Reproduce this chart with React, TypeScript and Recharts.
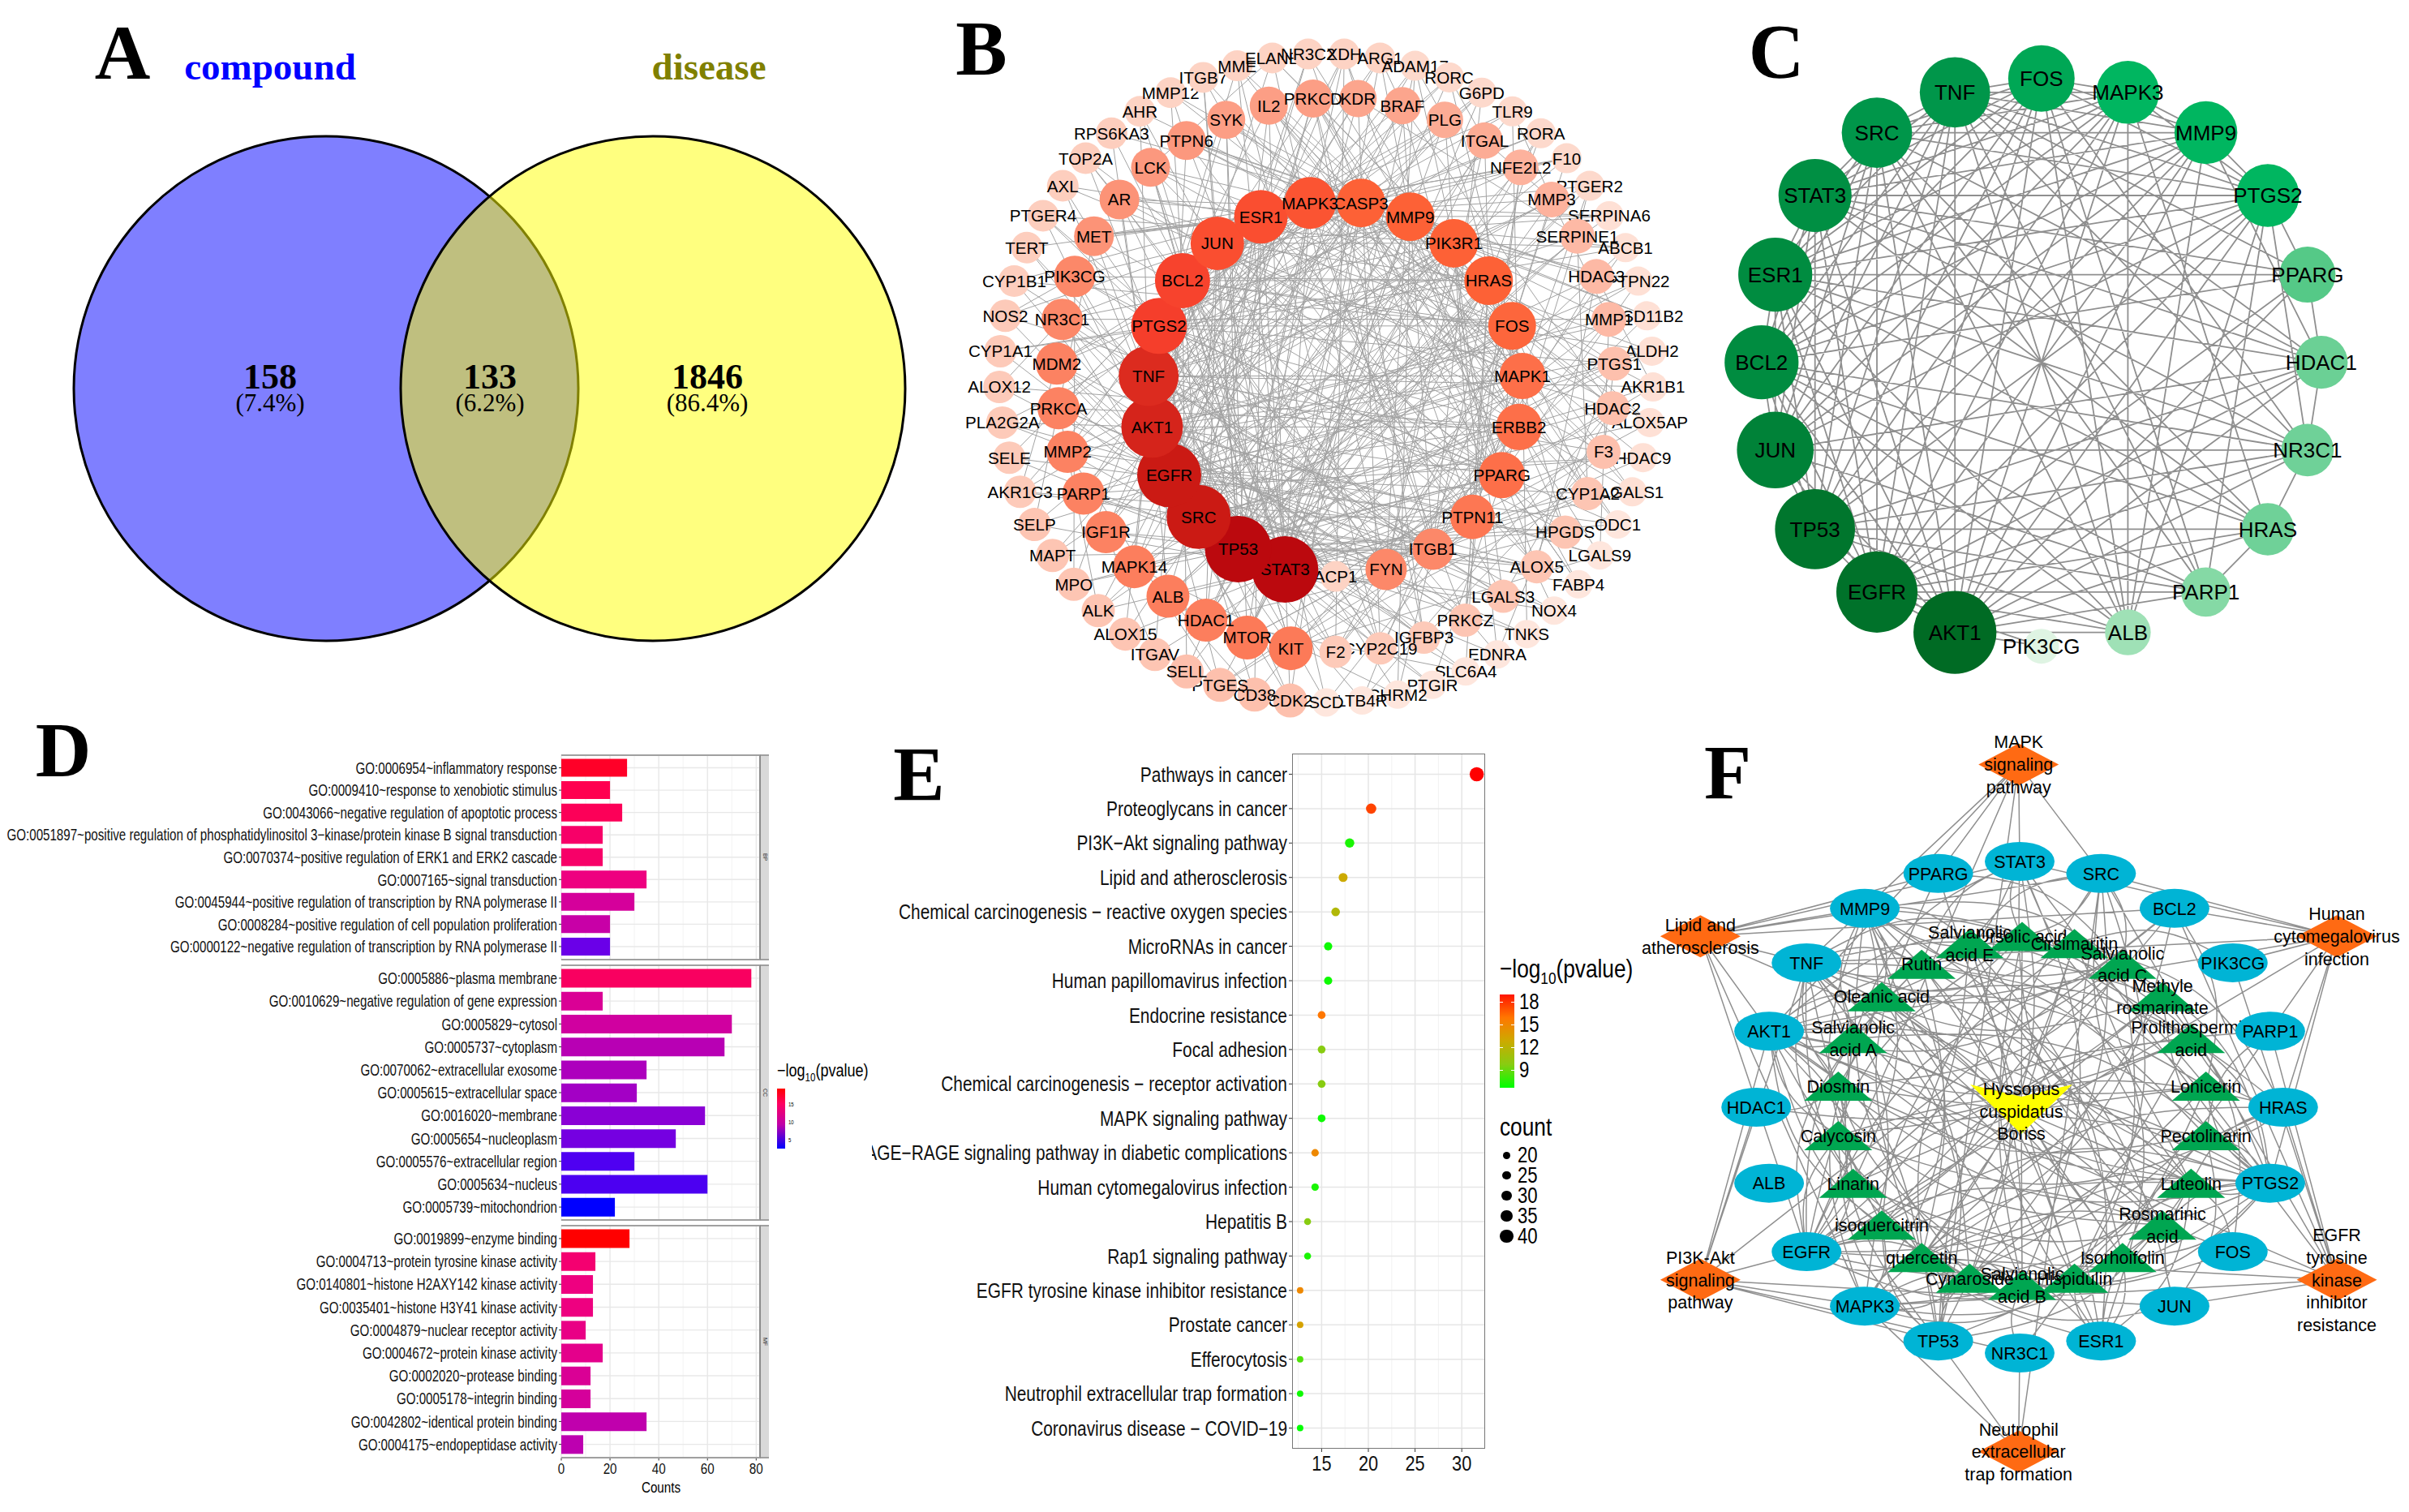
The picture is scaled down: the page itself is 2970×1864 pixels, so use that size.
import React from 'react';
import {
  BarChart, Bar, Cell, XAxis, YAxis, ZAxis, CartesianGrid, ComposedChart, ScatterChart, Scatter, Line,
} from 'recharts';

const SANS = '"Liberation Sans", Arial, sans-serif';
const SERIF = '"Liberation Serif", serif';

// ---- A: venn
const vennSets = ['compound', 'disease'];
const vennCounts = [158, 133, 1846];
const vennPercents = ['(7.4%)', '(6.2%)', '(86.4%)'];

// ---- B: PPI network, three rings in drawing order (clockwise)
const bInner = ['CASP3', 'MMP9', 'PIK3R1', 'HRAS', 'FOS', 'MAPK1', 'ERBB2', 'PPARG', 'PTPN11', 'ITGB1', 'FYN', 'ACP1', 'STAT3', 'TP53', 'SRC', 'EGFR', 'AKT1', 'TNF', 'PTGS2', 'BCL2', 'JUN', 'ESR1', 'MAPK3'];
const bInnerDegree = [32, 32, 32, 32, 31, 29, 29, 29, 27, 23, 23, 10, 54, 54, 51, 51, 48, 46, 41, 40, 38, 38, 36];
const bMiddle = ['KDR', 'BRAF', 'PLG', 'ITGAL', 'NFE2L2', 'MMP3', 'SERPINE1', 'HDAC3', 'MMP1', 'PTGS1', 'HDAC2', 'F3', 'CYP1A2', 'HPGDS', 'ALOX5', 'LGALS3', 'PRKCZ', 'IGFBP3', 'CYP2C19', 'F2', 'KIT', 'MTOR', 'HDAC1', 'ALB', 'MAPK14', 'IGF1R', 'PARP1', 'MMP2', 'PRKCA', 'MDM2', 'NR3C1', 'PIK3CG', 'MET', 'AR', 'LCK', 'PTPN6', 'SYK', 'IL2', 'PRKCD'];
const bMiddleDegree = [18, 18, 17, 17, 16, 16, 15, 15, 15, 14, 14, 14, 13, 13, 13, 13, 13, 12, 12, 12, 26, 26, 25, 25, 25, 24, 24, 24, 24, 24, 23, 23, 21, 21, 20, 20, 19, 19, 19];
const bOuter = ['XDH', 'ARG1', 'ADAM17', 'RORC', 'G6PD', 'TLR9', 'RORA', 'F10', 'PTGER2', 'SERPINA6', 'ABCB1', 'PTPN22', 'HSD11B2', 'ALDH2', 'AKR1B1', 'ALOX5AP', 'HDAC9', 'LGALS1', 'ODC1', 'LGALS9', 'FABP4', 'NOX4', 'TNKS', 'EDNRA', 'SLC6A4', 'PTGIR', 'CHRM2', 'LTB4R', 'SCD', 'CDK2', 'CD38', 'PTGES', 'SELL', 'ITGAV', 'ALOX15', 'ALK', 'MPO', 'MAPT', 'SELP', 'AKR1C3', 'SELE', 'PLA2G2A', 'ALOX12', 'CYP1A1', 'NOS2', 'CYP1B1', 'TERT', 'PTGER4', 'AXL', 'TOP2A', 'RPS6KA3', 'AHR', 'MMP12', 'ITGB7', 'MME', 'ELANE', 'NR3C2'];
const bOuterDegree = [10, 10, 9, 9, 9, 9, 9, 9, 9, 8, 8, 8, 8, 8, 8, 8, 8, 8, 7, 7, 7, 7, 7, 7, 7, 7, 7, 7, 7, 14, 14, 14, 14, 13, 13, 13, 13, 13, 13, 12, 12, 12, 12, 12, 12, 11, 11, 11, 11, 11, 11, 10, 10, 10, 10, 10, 10];
// row i = neighbours of node i; inner 0-22, middle 23-61, outer 62-118
const bLinks = [
  [3, 5, 7, 12, 13, 15, 16, 17, 18, 20, 21, 22, 27, 33, 40, 48, 55, 60, 66, 74, 83, 91, 99, 108, 114],
  [4, 6, 9, 12, 14, 16, 17, 19, 21, 24, 30, 37, 44, 52, 58, 63, 71, 80, 88, 96, 103, 112, 118],
  [5, 8, 10, 13, 14, 15, 16, 20, 22, 25, 31, 38, 45, 53, 59, 64, 72, 85, 93, 101, 109, 117],
  [6, 9, 11, 12, 13, 15, 17, 19, 20, 26, 32, 39, 46, 54, 61, 68, 77, 86, 94, 105, 113],
  [7, 10, 13, 14, 16, 18, 19, 21, 28, 35, 42, 49, 56, 69, 79, 89, 97, 107, 116],
  [8, 12, 13, 15, 16, 17, 20, 22, 23, 34, 41, 50, 57, 65, 75, 84, 92, 100, 110],
  [9, 10, 14, 15, 16, 18, 19, 29, 36, 43, 51, 60, 67, 76, 87, 95, 104, 115],
  [11, 12, 13, 16, 17, 18, 21, 24, 33, 47, 55, 62, 73, 82, 98, 106, 111],
  [10, 12, 14, 15, 16, 19, 20, 27, 39, 44, 58, 70, 81, 90, 102, 118],
  [12, 13, 14, 15, 17, 18, 22, 30, 37, 52, 61, 66, 78, 88, 99, 109],
  [12, 13, 14, 16, 19, 26, 35, 48, 56, 64, 74, 93, 103, 117],
  [15, 40, 76, 112],
  [13, 14, 15, 16, 17, 18, 19, 20, 21, 22, 25, 28, 31, 34, 38, 41, 46, 49, 53, 57, 60, 63, 68, 72, 79, 83, 86, 91, 96, 100, 105, 108, 113, 116],
  [14, 15, 16, 17, 18, 19, 20, 21, 22, 23, 26, 29, 32, 36, 42, 45, 50, 54, 59, 62, 65, 70, 75, 80, 85, 90, 94, 98, 102, 107, 111, 115],
  [15, 16, 17, 18, 20, 21, 24, 27, 33, 37, 43, 47, 51, 55, 61, 67, 71, 77, 82, 87, 92, 97, 101, 106, 110, 114],
  [16, 17, 18, 19, 21, 22, 25, 30, 35, 40, 44, 52, 58, 64, 69, 73, 78, 84, 89, 95, 99, 104, 109, 118],
  [17, 18, 19, 20, 21, 22, 23, 28, 31, 39, 46, 48, 56, 62, 66, 74, 81, 86, 93, 100, 103, 112, 117],
  [18, 19, 20, 21, 22, 26, 29, 34, 38, 42, 53, 59, 63, 70, 76, 83, 91, 98, 108, 113],
  [19, 20, 21, 22, 27, 32, 41, 47, 54, 60, 65, 72, 80, 88, 96, 105, 116],
  [20, 21, 22, 24, 33, 43, 50, 57, 68, 75, 85, 94, 102, 111],
  [21, 22, 25, 36, 45, 51, 61, 71, 79, 90, 106, 115],
  [22, 28, 37, 49, 55, 67, 77, 92, 101, 110, 118],
  [30, 35, 44, 58, 69, 82, 97, 107, 114],
  [29, 41, 62], [33, 47, 63], [36, 52, 64], [28, 44, 65], [39, 55, 69],
  [31, 50, 67], [35, 46, 70], [37, 58, 76], [42, 53, 81], [34, 49, 85],
  [38, 60, 89], [40, 56, 93], [43, 61, 97], [45, 54, 101], [48, 57, 103],
  [51, 59, 107], [52, 60, 109], [53, 61, 113], [55, 58, 116], [56, 62, 72],
  [57, 64, 81], [59, 66, 77], [60, 68, 86], [61, 70, 92], [62, 73, 88],
  [63, 75, 95], [64, 78, 84], [65, 80, 93], [66, 83, 97], [67, 87, 101],
  [68, 91, 104], [69, 98, 106], [70, 100, 110], [71, 72, 111], [73, 75, 117],
  [74, 76, 114], [77, 78, 115], [79, 80, 116], [81, 82, 117],
];

// ---- C: hub genes
const cGenes = ['FOS', 'MAPK3', 'MMP9', 'PTGS2', 'PPARG', 'HDAC1', 'NR3C1', 'HRAS', 'PARP1', 'ALB', 'PIK3CG', 'AKT1', 'EGFR', 'TP53', 'JUN', 'BCL2', 'ESR1', 'STAT3', 'SRC', 'TNF'];
const cDegree = [13.5, 12.3, 12.3, 12.3, 10, 9, 8.8, 8.8, 7.8, 6.6, 3, 19, 18.4, 18, 16.9, 16, 16, 15.7, 14.8, 14.8];
const cLinks = [
  [1, 2, 3, 6, 8, 9],
  [2, 3, 7, 9, 11],
  [3, 5, 9, 12],
  [4, 6, 8, 9, 13],
  [5],
  [6],
  [7, 16],
  [8, 17],
  [18],
  [19],
  [],
  [0, 1, 2, 3, 4, 5, 6, 7, 8, 9, 10, 12, 13, 14, 15, 16, 17, 18, 19],
  [0, 1, 2, 3, 4, 5, 6, 7, 8, 9, 10, 13, 14, 15, 16, 17, 18, 19],
  [0, 1, 2, 3, 5, 6, 7, 8, 9, 14, 15, 16, 17, 18, 19],
  [0, 1, 2, 3, 5, 6, 8, 15, 16, 17, 18, 19],
  [0, 1, 2, 3, 4, 6, 7, 8, 9, 16, 17, 18, 19],
  [0, 1, 2, 3, 4, 5, 6, 7, 9, 17, 18, 19],
  [0, 1, 2, 3, 4, 5, 6, 7, 18, 19],
  [0, 1, 2, 3, 5, 7, 8, 9, 19],
  [0, 1, 2, 3, 4, 5, 6, 8, 9],
];

// ---- D: GO enrichment bars
const bpTerms = ['GO:0006954~inflammatory response', 'GO:0009410~response to xenobiotic stimulus', 'GO:0043066~negative regulation of apoptotic process', 'GO:0051897~positive regulation of phosphatidylinositol 3−kinase/protein kinase B signal transduction', 'GO:0070374~positive regulation of ERK1 and ERK2 cascade', 'GO:0007165~signal transduction', 'GO:0045944~positive regulation of transcription by RNA polymerase II', 'GO:0008284~positive regulation of cell population proliferation', 'GO:0000122~negative regulation of transcription by RNA polymerase II'];
const bpCounts = [27, 20, 25, 17, 17, 35, 30, 20, 20];
const bpLogP = [18, 17, 16.5, 15.5, 15.5, 14, 11.5, 10.5, 5.5];
const ccTerms = ['GO:0005886~plasma membrane', 'GO:0010629~negative regulation of gene expression', 'GO:0005829~cytosol', 'GO:0005737~cytoplasm', 'GO:0070062~extracellular exosome', 'GO:0005615~extracellular space', 'GO:0016020~membrane', 'GO:0005654~nucleoplasm', 'GO:0005576~extracellular region', 'GO:0005634~nucleus', 'GO:0005739~mitochondrion'];
const ccCounts = [78, 17, 70, 67, 35, 31, 59, 47, 30, 60, 22];
const ccLogP = [16, 12, 11, 9.5, 8.8, 8.2, 7, 6, 4.5, 4.4, 2];
const mfTerms = ['GO:0019899~enzyme binding', 'GO:0004713~protein tyrosine kinase activity', 'GO:0140801~histone H2AXY142 kinase activity', 'GO:0035401~histone H3Y41 kinase activity', 'GO:0004879~nuclear receptor activity', 'GO:0004672~protein kinase activity', 'GO:0002020~protease binding', 'GO:0005178~integrin binding', 'GO:0042802~identical protein binding', 'GO:0004175~endopeptidase activity'];
const mfCounts = [28, 14, 13, 13, 10, 17, 12, 12, 35, 9];
const mfLogP = [19, 15, 14, 14, 13.5, 13, 12, 11.5, 10, 9.8];
const countTicks = [0, 20, 40, 60, 80];
const countMinor = [10, 30, 50, 70];
const colorLegendD = [15, 10, 5];

// ---- E: KEGG dots
const keggNames = ['Pathways in cancer', 'Proteoglycans in cancer', 'PI3K−Akt signaling pathway', 'Lipid and atherosclerosis', 'Chemical carcinogenesis − reactive oxygen species', 'MicroRNAs in cancer', 'Human papillomavirus infection', 'Endocrine resistance', 'Focal adhesion', 'Chemical carcinogenesis − receptor activation', 'MAPK signaling pathway', 'AGE−RAGE signaling pathway in diabetic complications', 'Human cytomegalovirus infection', 'Hepatitis B', 'Rap1 signaling pathway', 'EGFR tyrosine kinase inhibitor resistance', 'Prostate cancer', 'Efferocytosis', 'Neutrophil extracellular trap formation', 'Coronavirus disease − COVID−19'];
const keggPercent = [31.6, 20.3, 18, 17.3, 16.5, 15.7, 15.7, 15, 15, 15, 15, 14.3, 14.3, 13.5, 13.5, 12.7, 12.7, 12.7, 12.7, 12.7];
const keggCount = [42, 27, 24, 23, 22, 21, 21, 20, 20, 20, 20, 19, 19, 18, 18, 17, 17, 17, 17, 17];
const keggLogP = [18.5, 16.5, 7.8, 12, 11, 7.6, 7.6, 15, 9.5, 9.5, 7.6, 14, 7.8, 9.5, 7.8, 14, 12.5, 8.6, 7.6, 7.4];
const percentTicks = [15, 20, 25, 30];
const percentMinor = [12.5, 17.5, 22.5, 27.5, 32.5];
const colorLegendE = [18, 15, 12, 9];
const sizeLegendE = [20, 25, 30, 35, 40];

// ---- F: herb-compound-target-pathway network
const fHerb = ['Hyssopus\ncuspidatus\nBoriss'];
const fCompounds = ['Ursolic acid', 'Cirsimaritin', 'Salvianolic\nacid C', 'Methyle\nrosmarinate', 'Prolithospermic\nacid', 'Lonicerin', 'Pectolinarin', 'Luteolin', 'Rosmarinic\nacid', 'Isorhoifolin', 'Hispidulin', 'Salvianolic\nacid B', 'Cynaroside', 'quercetin', 'isoquercitrin', 'Linarin', 'Calycosin', 'Diosmin', 'Salvianolic\nacid A', 'Oleanic acid', 'Rutin', 'Salvianolic\nacid E'];
const fTargets = ['STAT3', 'SRC', 'BCL2', 'PIK3CG', 'PARP1', 'HRAS', 'PTGS2', 'FOS', 'JUN', 'ESR1', 'NR3C1', 'TP53', 'MAPK3', 'EGFR', 'ALB', 'HDAC1', 'AKT1', 'TNF', 'MMP9', 'PPARG'];
const fPathways = ['MAPK\nsignaling\npathway', 'Human\ncytomegalovirus\ninfection', 'EGFR\ntyrosine\nkinase\ninhibitor\nresistance', 'Neutrophil\nextracellular\ntrap formation', 'PI3K-Akt\nsignaling\npathway', 'Lipid and\natherosclerosis'];
const fCompoundLinks = [
  [0, 1, 6, 9, 11, 13, 16, 17, 18],
  [3, 5, 9, 12, 13, 16, 17],
  [1, 6, 10, 11, 13, 16, 18, 19],
  [6, 7, 13, 15, 16, 17, 18],
  [0, 5, 6, 12, 13, 16, 17],
  [2, 6, 11, 13, 16, 17, 18],
  [4, 5, 6, 8, 12, 16, 17],
  [1, 5, 6, 7, 8, 9, 11, 12, 13, 16, 17, 18, 19],
  [0, 6, 9, 12, 13, 16, 17, 18],
  [5, 6, 9, 13, 16, 18],
  [1, 6, 9, 12, 13, 16, 17],
  [0, 1, 6, 10, 12, 16, 17, 18],
  [1, 6, 11, 12, 13, 16, 17, 18],
  [0, 2, 4, 5, 6, 7, 8, 9, 11, 12, 13, 16, 17, 18, 19],
  [4, 6, 7, 11, 12, 13, 16, 17, 18],
  [5, 6, 11, 13, 16, 17, 18],
  [5, 6, 9, 11, 13, 16, 17],
  [2, 6, 9, 13, 15, 16, 17, 18],
  [0, 6, 11, 13, 16, 17, 18],
  [0, 2, 5, 6, 9, 11, 12, 16, 17, 18],
  [0, 6, 8, 12, 13, 16, 17, 18],
  [1, 6, 9, 11, 13, 17, 18],
];
const fPathwayLinks = [
  [19, 18, 17, 16, 1, 0, 13, 11],
  [2, 1, 16, 17, 0, 3, 5, 4, 13, 6],
  [5, 4, 2, 3, 7, 13, 12, 8, 16, 1, 0],
  [10, 11, 12, 1],
  [12, 13, 11, 15, 16, 8, 17, 2, 10],
  [18, 17, 16, 19, 2, 0, 1, 13, 12, 6],
];

// ---- colour ramps
const hexRgb = (h: string) => [1, 3, 5].map((i) => parseInt(h.slice(i, i + 2), 16));
const ramp = (stops: [number, string][]) => (v: number) => {
  if (v <= stops[0][0]) return stops[0][1];
  for (let i = 1; i < stops.length; i++) {
    if (v <= stops[i][0]) {
      const t = (v - stops[i - 1][0]) / (stops[i][0] - stops[i - 1][0]);
      const a = hexRgb(stops[i - 1][1]);
      const b = hexRgb(stops[i][1]);
      return `rgb(${a.map((c, k) => Math.round(c + (b[k] - c) * t)).join(',')})`;
    }
  }
  return stops[stops.length - 1][1];
};
const redRamp = ramp([[7, '#fee6dd'], [10, '#fdd3c4'], [14, '#fdc0ad'], [19, '#fc9e85'], [24, '#fc8262'], [29, '#fd6f49'], [32, '#fd6136'], [38, '#fa4e30'], [41, '#f53e2b'], [46, '#dc2b1f'], [51, '#cb1a14'], [54, '#bb090e']]);
const greenRamp = ramp([[3, '#dff4e3'], [6.6, '#9fe1b6'], [10, '#55c987'], [12.3, '#00b660'], [14.8, '#00964a'], [16, '#008c40'], [19, '#006b24']]);
const goRamp = ramp([[2, '#0000ff'], [5, '#5f00ee'], [8, '#a000c8'], [11, '#d000a0'], [14, '#ee0080'], [17, '#ff0050'], [19, '#ff0000']]);
const keggRamp = ramp([[7.4, '#00ff00'], [9.5, '#88cc11'], [12, '#ccaa00'], [15, '#ff7700'], [18.5, '#ff0000']]);

// ---- layout helpers
type Ring = { cx: number; cy: number; rx: number; ry: number; start: number };
const ring = (names: string[], degree: number[], c: Ring) => names.map((name, i) => {
  const a = ((c.start + (i * 360) / names.length) * Math.PI) / 180;
  return { name, degree: degree[i], x: c.cx + c.rx * Math.sin(a), y: c.cy - c.ry * Math.cos(a) };
});
const zeros = (names: string[]) => names.map(() => 0);

// a null y breaks the line, so one Line can hold every edge; bow > 0 curves the edge
const edgeRows = (pairs: [any, any, number][]) => pairs.flatMap(([a, b, bow]) => {
  const rows: { x: number; y: number | null }[] = [{ x: a.x, y: a.y }];
  if (bow) {
    rows.push({ x: (a.x + b.x) / 2 - (b.y - a.y) * bow, y: (a.y + b.y) / 2 + (b.x - a.x) * bow });
  }
  rows.push({ x: b.x, y: b.y }, { x: b.x, y: null });
  return rows;
});
const rowPairs = (from: any[], to: any[], links: number[][], bow = 0): [any, any, number][] =>
  links.flatMap((row, i) => row.map((j) => [from[i], to[j], bow ? (((i + j) % 2) ? bow : -bow) : 0] as [any, any, number]));

const NodeText = ({ cx, cy, text, size }: any) => {
  const lines = String(text).split('\n');
  const lh = size * 1.29;
  return (
    <text textAnchor="middle" fontFamily={SANS} fontSize={size} fill="#000">
      {lines.map((l, i) => (
        <tspan key={i} x={cx} y={cy + (i - (lines.length - 1) / 2) * lh + size * 0.36}>{l}</tspan>
      ))}
    </text>
  );
};

const Canvas = ({ left, top, width, height, children }: any) => (
  <div style={{ position: 'absolute', left, top, width, height }}>
    <ComposedChart width={width} height={height} margin={{ top: 0, right: 0, bottom: 0, left: 0 }}>
      <XAxis type="number" dataKey="x" domain={[0, width]} hide allowDataOverflow />
      <YAxis type="number" dataKey="y" domain={[0, height]} reversed hide allowDataOverflow width={0} />
      {children}
    </ComposedChart>
  </div>
);

const Txt = ({ x, y, size, family = SANS, color = '#000', weight = 400, anchor = 'left', squeeze = 1, children }: any) => (
  <div style={{
    position: 'absolute', left: x, top: y, fontSize: size, fontFamily: family, color, fontWeight: weight, lineHeight: 1, whiteSpace: 'nowrap',
    transformOrigin: anchor === 'center' ? 'center' : 'left center',
    transform: `${anchor === 'center' ? 'translate(-50%,-50%)' : 'translateY(-50%)'} scaleX(${squeeze})`,
  }}>{children}</div>
);

const PanelLetter = ({ x, y, children }: any) => (
  <Txt x={x} y={y} size={95} family={SERIF} weight={700} anchor="center">{children}</Txt>
);

// the reference's axis text is horizontally condensed Arial
const sideTick = (size: number, squeeze: number, label: (v: any) => string) => (p: any) => (
  <text transform={`translate(${p.x},${p.y}) scale(${squeeze},1)`} dy={size * 0.36} textAnchor="end" fontFamily={SANS} fontSize={size} fill="#111">
    {label(p.payload.value)}
  </text>
);
const bottomTick = (size: number, squeeze: number) => (p: any) => (
  <text transform={`translate(${p.x},${p.y}) scale(${squeeze},1)`} dy={size * 0.78} textAnchor="middle" fontFamily={SANS} fontSize={size} fill="#111">
    {p.payload.value}
  </text>
);

// ---- panels
const VennPanel = () => {
  const circles = [{ x: 402, y: 479, fill: '#0000ff' }, { x: 805, y: 479, fill: '#ffff00' }];
  const regions = vennCounts.map((n, i) => ({ x: [333, 604, 872][i], y: 464, n, p: vennPercents[i] }));
  return (
    <Canvas left={0} top={0} width={1130} height={820}>
      {circles.map((c, i) => (
        <Scatter key={vennSets[i]} data={[c]} dataKey="y" isAnimationActive={false}
          shape={(p: any) => <circle cx={p.cx} cy={p.cy} r={311} fill={c.fill} fillOpacity={0.5} stroke="#000" strokeWidth={3} />} />
      ))}
      <Scatter data={regions} dataKey="y" isAnimationActive={false} shape={(p: any) => (
        <g fontFamily={SERIF} textAnchor="middle" fill="#000">
          <text x={p.cx} y={p.cy + 15} fontSize={44} fontWeight={700}>{p.payload.n}</text>
          <text x={p.cx} y={p.cy + 43} fontSize={31}>{p.payload.p}</text>
        </g>
      )} />
    </Canvas>
  );
};

const bNodes = [
  ...ring(bInner, bInnerDegree, { cx: 516.6, cy: 479.3, rx: 231, ry: 231.3, start: 7.826 }),
  ...ring(bMiddle, bMiddleDegree, { cx: 516.6, cy: 462, rx: 344, ry: 341.6, start: 4.615 }),
  ...ring(bOuter, bOuterDegree, { cx: 505, cy: 466, rx: 403, ry: 400, start: 3.158 }),
];
const bEdges = edgeRows(rowPairs(bNodes, bNodes, bLinks));
const bShape = (p: any) => (
  <g>
    <circle cx={p.cx} cy={p.cy} r={14 + 0.5 * p.payload.degree} fill={redRamp(p.payload.degree)} />
    <NodeText cx={p.cx} cy={p.cy} text={p.payload.name} size={20.6} />
  </g>
);
const BPanel = () => (
  <Canvas left={1130} top={0} width={1000} height={900}>
    <Line data={bEdges} dataKey="y" stroke="#a3a3a3" strokeWidth={1} dot={false} activeDot={false} isAnimationActive={false} />
    <Scatter data={bNodes.slice(62)} dataKey="y" shape={bShape} isAnimationActive={false} />
    <Scatter data={bNodes.slice(23, 62)} dataKey="y" shape={bShape} isAnimationActive={false} />
    <Scatter data={bNodes.slice(0, 23)} dataKey="y" shape={bShape} isAnimationActive={false} />
  </Canvas>
);

const cNodes = ring(cGenes, cDegree, { cx: 416.8, cy: 446.7, rx: 345, ry: 350, start: 0 });
const cEdges = edgeRows(rowPairs(cNodes, cNodes, cLinks));
const CPanel = () => (
  <Canvas left={2100} top={0} width={870} height={880}>
    <Line data={cEdges} dataKey="y" stroke="#8f8f8f" strokeWidth={1.8} dot={false} activeDot={false} isAnimationActive={false} />
    <Scatter data={cNodes} dataKey="y" isAnimationActive={false} shape={(p: any) => (
      <g>
        <circle cx={p.cx} cy={p.cy} r={16 + 1.85 * p.payload.degree} fill={greenRamp(p.payload.degree)} />
        <NodeText cx={p.cx} cy={p.cy} text={p.payload.name} size={26} />
      </g>
    )} />
  </Canvas>
);

const GoFacet = ({ terms, counts, logP, top, height, showAxis }: any) => {
  const rows = terms.map((term: string, i: number) => ({ term, count: counts[i], logP: logP[i] }));
  const h = height + (showAxis ? 34 : 0);
  return (
    <div style={{ position: 'absolute', left: 0, top, width: 960, height: h }}>
      <BarChart width={960} height={h} data={rows} layout="vertical" barCategoryGap="10%"
        margin={{ top: 0, right: 22, bottom: 0, left: 0 }}>
        <CartesianGrid stroke="#f3f3f3" strokeWidth={1} horizontal={false} verticalValues={countMinor} />
        <CartesianGrid stroke="#e8e8e8" strokeWidth={1.4} />
        <XAxis type="number" domain={[0, 81.9]} ticks={countTicks} hide={!showAxis} height={34} interval={0}
          axisLine={false} tickSize={3} tick={bottomTick(19, 0.8)} tickLine={{ stroke: '#333' }} />
        <YAxis type="category" dataKey="term" width={692} interval={0} axisLine={false} tickSize={3}
          padding={{ top: 2.8, bottom: 2.8 }} tick={sideTick(20, 0.757, (v) => v)} tickLine={{ stroke: '#333' }} />
        <Bar dataKey="count" isAnimationActive={false}>
          {rows.map((r: any) => <Cell key={r.term} fill={goRamp(r.logP)} />)}
        </Bar>
      </BarChart>
    </div>
  );
};

const goFacets = [
  { label: 'BP', terms: bpTerms, counts: bpCounts, logP: bpLogP, top: 930.2, height: 253.5 },
  { label: 'CC', terms: ccTerms, counts: ccCounts, logP: ccLogP, top: 1188.8, height: 316 },
  { label: 'MF', terms: mfTerms, counts: mfCounts, logP: mfLogP, top: 1510, height: 287.5 },
];

const DPanel = () => (
  <>
    {goFacets.map((f, i) => (
      <React.Fragment key={f.label}>
        <GoFacet {...f} showAxis={i === 2} />
        <div style={{ position: 'absolute', left: 692, top: f.top, width: 246, height: f.height, boxSizing: 'border-box', borderTop: '2px solid #a0a0a0', borderBottom: '2px solid #a0a0a0', borderRight: '2px solid #8c8c8c' }} />
        <div style={{ position: 'absolute', left: 938, top: f.top, width: 10, height: f.height, boxSizing: 'border-box', borderTop: '2px solid #a0a0a0', borderBottom: '2px solid #a0a0a0', background: '#d9d9d9', display: 'flex', alignItems: 'center', justifyContent: 'center' }}>
          <span style={{ writingMode: 'vertical-rl', fontSize: 7, fontFamily: SANS, color: '#333' }}>{f.label}</span>
        </div>
      </React.Fragment>
    ))}
    <Txt x={815} y={1833} size={19} squeeze={0.8} anchor="center">Counts</Txt>
    <Txt x={958} y={1322} size={22} squeeze={0.82}>−log<sub style={{ fontSize: 14 }}>10</sub>(pvalue)</Txt>
    <div style={{ position: 'absolute', left: 958, top: 1342, width: 10, height: 74, background: 'linear-gradient(#ff0000,#ff0060 25%,#c000a8 60%,#0000ff)' }} />
    {colorLegendD.map((t, i) => <Txt key={t} x={972} y={1362 + i * 22} size={7.5} squeeze={0.8}>{t}</Txt>)}
  </>
);

const ePoints = keggNames.map((name, i) => ({ name, rank: i, percent: keggPercent[i], count: keggCount[i], logP: keggLogP[i] }));
const EPanel = () => (
  <>
    <div style={{ position: 'absolute', left: 1075, top: 929, width: 756, height: 900 }}>
      <ScatterChart width={756} height={900} margin={{ top: 0, right: 0, bottom: 0, left: 0 }}>
        <CartesianGrid stroke="#f2f2f2" strokeWidth={1} horizontal={false} verticalValues={percentMinor} />
        <CartesianGrid stroke="#e6e6e6" strokeWidth={1.5} verticalValues={percentTicks} horizontalValues={keggNames.map((_, i) => i)} />
        <XAxis type="number" dataKey="percent" domain={[11.84, 32.5]} ticks={percentTicks} height={43} interval={0} axisLine={false}
          tickSize={4} tick={bottomTick(26.5, 0.82)} tickLine={{ stroke: '#333' }} />
        <YAxis type="number" dataKey="rank" reversed domain={[-0.6, 19.6]} ticks={keggNames.map((_, i) => i)} width={518} interval={0}
          axisLine={false} tickSize={4} tick={sideTick(25.5, 0.82, (i) => keggNames[i])} tickLine={{ stroke: '#333' }} />
        <ZAxis type="number" dataKey="count" domain={[17, 42]} range={[50, 240]} />
        <Scatter data={ePoints} isAnimationActive={false}>
          {ePoints.map((p) => <Cell key={p.name} fill={keggRamp(p.logP)} />)}
        </Scatter>
      </ScatterChart>
    </div>
    <div style={{ position: 'absolute', left: 1593.4, top: 929, width: 237.2, height: 857, boxSizing: 'border-box', border: '1.5px solid #777' }} />
    <Txt x={1848.5} y={1197} size={32} squeeze={0.82}>−log<sub style={{ fontSize: 21 }}>10</sub>(pvalue)</Txt>
    <div style={{ position: 'absolute', left: 1848.5, top: 1226, width: 18, height: 115, background: 'linear-gradient(#ff1500,#ff7700,#ccaa00,#88cc11,#00ff00)' }} />
    {colorLegendE.map((t, i) => (
      <React.Fragment key={t}>
        <div style={{ position: 'absolute', left: 1848.5, top: 1234.5 + i * 28, width: 18, height: 1.5, background: 'linear-gradient(90deg,#fff 20%,transparent 20%,transparent 80%,#fff 80%)' }} />
        <Txt x={1872.7} y={1235 + i * 28} size={27} squeeze={0.82}>{t}</Txt>
      </React.Fragment>
    ))}
    <Txt x={1848.5} y={1389} size={32} squeeze={0.82}>count</Txt>
    {sizeLegendE.map((t, i) => (
      <React.Fragment key={t}>
        <div style={{ position: 'absolute', left: 1857.4 - (4.5 + i * 0.95), top: 1424 + i * 25 - (4.5 + i * 0.95), width: 9 + i * 1.9, height: 9 + i * 1.9, borderRadius: '50%', background: '#000' }} />
        <Txt x={1871} y={1424 + i * 25} size={27} squeeze={0.82}>{t}</Txt>
      </React.Fragment>
    ))}
  </>
);

const fHub = ring(fHerb, [0], { cx: 492, cy: 490, rx: 0, ry: 0, start: 0 });
const fTri = ring(fCompounds, zeros(fCompounds), { cx: 493, cy: 489.5, rx: 229, ry: 215, start: 0 });
const fTar = ring(fTargets, zeros(fTargets), { cx: 490, cy: 485, rx: 324.8, ry: 303, start: 0 });
const fDia = ring(fPathways, zeros(fPathways), { cx: 488.7, cy: 486, rx: 453, ry: 423.6, start: 0 });
const fEdges = edgeRows([
  ...fTri.map((t) => [fHub[0], t, 0] as [any, any, number]),
  ...rowPairs(fTri, fTar, fCompoundLinks, 0.14),
  ...rowPairs(fDia, fTar, fPathwayLinks),
]);
const FPanel = () => (
  <Canvas left={2000} top={880} width={970} height={984}>
    <Line data={fEdges} dataKey="y" type="natural" stroke="#8f8f8f" strokeWidth={1.5} dot={false} activeDot={false} isAnimationActive={false} />
    <Scatter data={fHub} dataKey="y" isAnimationActive={false} shape={(p: any) => (
      <g>
        <path d={`M${p.cx - 63} ${p.cy - 33} L${p.cx} ${p.cy - 18} L${p.cx + 63} ${p.cy - 33} L${p.cx} ${p.cy + 28} Z`} fill="#ffff00" />
        <NodeText cx={p.cx} cy={p.cy} text={p.payload.name} size={21.5} />
      </g>
    )} />
    <Scatter data={fTri} dataKey="y" isAnimationActive={false} shape={(p: any) => (
      <g>
        <path d={`M${p.cx} ${p.cy - 18} L${p.cx + 42} ${p.cy + 18} L${p.cx - 42} ${p.cy + 18} Z`} fill="#00a651" />
        <NodeText cx={p.cx} cy={p.cy} text={p.payload.name} size={21.5} />
      </g>
    )} />
    <Scatter data={fTar} dataKey="y" isAnimationActive={false} shape={(p: any) => (
      <g>
        <ellipse cx={p.cx} cy={p.cy} rx={43} ry={24} fill="#00b4d5" />
        <NodeText cx={p.cx} cy={p.cy} text={p.payload.name} size={21.5} />
      </g>
    )} />
    <Scatter data={fDia} dataKey="y" isAnimationActive={false} shape={(p: any) => (
      <g>
        <path d={`M${p.cx} ${p.cy - 26} L${p.cx + 49.5} ${p.cy} L${p.cx} ${p.cy + 26} L${p.cx - 49.5} ${p.cy} Z`} fill="#ff6a13" />
        <NodeText cx={p.cx} cy={p.cy} text={p.payload.name} size={21.5} />
      </g>
    )} />
  </Canvas>
);

const App: React.FC = () => (
  <div style={{ position: 'absolute', left: 0, top: 0, width: 2970, height: 1864, background: '#fff', overflow: 'hidden' }}>
    <VennPanel />
    <BPanel />
    <CPanel />
    <DPanel />
    <EPanel />
    <FPanel />
    <Txt x={333} y={82} size={47} family={SERIF} weight={700} color="#0000ff" anchor="center">{vennSets[0]}</Txt>
    <Txt x={874} y={82} size={47} family={SERIF} weight={700} color="#808000" anchor="center">{vennSets[1]}</Txt>
    <PanelLetter x={151} y={65}>A</PanelLetter>
    <PanelLetter x={1210} y={60}>B</PanelLetter>
    <PanelLetter x={2190} y={64}>C</PanelLetter>
    <PanelLetter x={78} y={925}>D</PanelLetter>
    <PanelLetter x={1133} y={955}>E</PanelLetter>
    <PanelLetter x={2130} y={953}>F</PanelLetter>
  </div>
);

export default App;
